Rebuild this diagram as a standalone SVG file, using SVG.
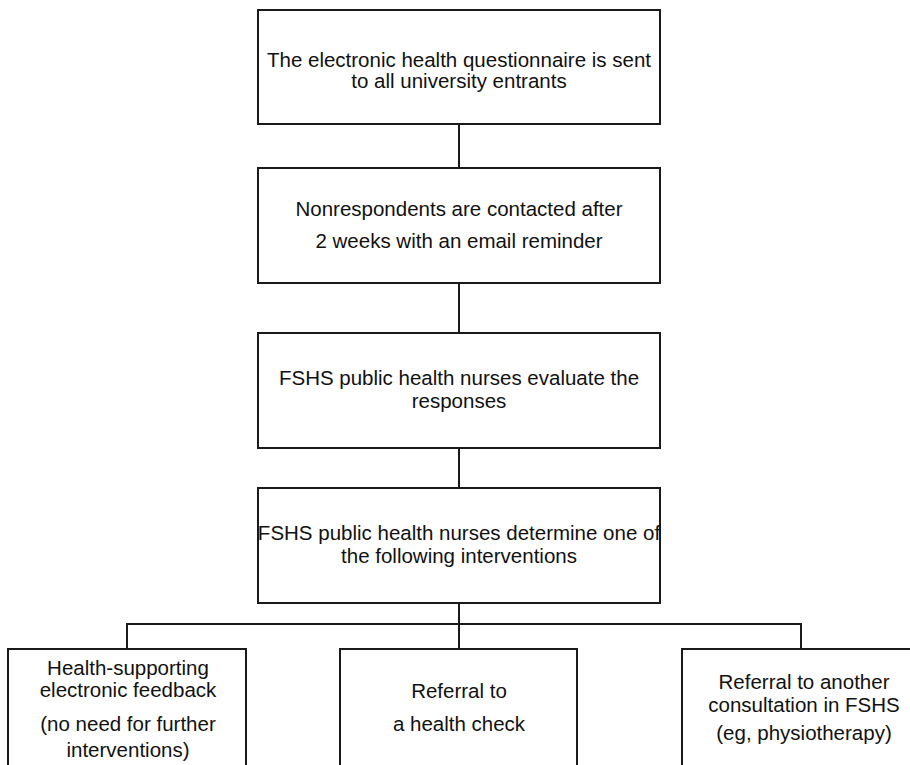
<svg xmlns="http://www.w3.org/2000/svg" width="910" height="765" viewBox="0 0 910 765">
<style>
rect.box{fill:#fff;stroke:#1a1a1a;stroke-width:2}
.c line,.c path{stroke:#1a1a1a;stroke-width:2;fill:none}
text{font-family:"Liberation Sans",Arial,sans-serif;font-size:20.5px;fill:#111;text-anchor:middle}
</style>
<rect width="910" height="765" fill="#fff"/>
<g class="c" id="connectors">
<line x1="459" y1="124" x2="459" y2="168"/>
<line x1="459" y1="283" x2="459" y2="333"/>
<line x1="459" y1="448" x2="459" y2="488"/>
<line x1="459" y1="603" x2="459" y2="649"/>
<path d="M127 649 V624 H801 V649"/>
</g>
<g id="n1"><rect class="box" x="258" y="10" width="402" height="114"/>
<text x="459" y="67">The electronic health questionnaire is sent</text>
<text x="459" y="88">to all university entrants</text></g>
<g id="n2"><rect class="box" x="258" y="168" width="402" height="115"/>
<text x="459" y="216">Nonrespondents are contacted after</text>
<text x="459" y="248">2 weeks with an email reminder</text></g>
<g id="n3"><rect class="box" x="258" y="333" width="402" height="115"/>
<text x="459" y="385">FSHS public health nurses evaluate the</text>
<text x="459" y="408">responses</text></g>
<g id="n4"><rect class="box" x="258" y="488" width="402" height="115"/>
<text x="459" y="540">FSHS public health nurses determine one of</text>
<text x="459" y="563">the following interventions</text></g>
<g id="n5"><rect class="box" x="8" y="649" width="238" height="130"/>
<text x="128" y="675">Health-supporting</text>
<text x="128" y="697">electronic feedback</text>
<text x="128" y="731">(no need for further</text>
<text x="128" y="757">interventions)</text></g>
<g id="n6"><rect class="box" x="340" y="649" width="237" height="130"/>
<text x="459" y="698">Referral to</text>
<text x="459" y="731">a health check</text></g>
<g id="n7"><rect class="box" x="682" y="649" width="250" height="130"/>
<text x="804" y="689">Referral to another</text>
<text x="804" y="712">consultation in FSHS</text>
<text x="804" y="740">(eg, physiotherapy)</text></g>
</svg>
